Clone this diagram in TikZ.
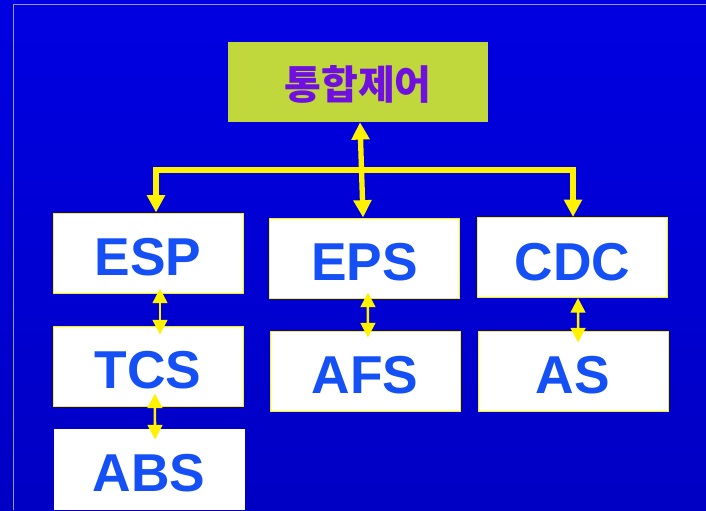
\documentclass[tikz,border=0pt]{standalone}
\usepackage{fontspec}
\setmainfont{Liberation Sans}
\newfontfamily\kr{Noto Sans CJK KR}
\usetikzlibrary{positioning,arrows.meta,calc}
\usepackage{xcolor}
\definecolor{bgtop}{RGB}{0,0,226}
\definecolor{bgbot}{RGB}{0,0,196}
\definecolor{lime}{RGB}{192,216,60}
\definecolor{violettext}{RGB}{112,16,224}
\definecolor{boxtext}{RGB}{20,80,245}
\definecolor{frameline}{RGB}{150,150,200}

\begin{document}
\begin{tikzpicture}[x=0.75pt,y=-0.75pt,
  unit/.style={draw=yellow,line width=0.75pt,fill=white,minimum width=190*0.75pt,
    minimum height=80*0.75pt,inner sep=0pt,text=boxtext,
    font=\fontsize{40}{40}\selectfont\bfseries,text height=34pt,text depth=0pt},
  bus/.style={yellow,line width=4pt,{Triangle[width=13pt,length=13pt]}-{Triangle[width=13pt,length=13pt]}},
  link/.style={yellow,line width=1.9pt,{Triangle[width=11pt,length=11pt]}-{Triangle[width=11pt,length=11pt]}}]
\useasboundingbox (0,0) rectangle (706,510);
\shade[top color=bgtop,bottom color=bgbot] (0,0) rectangle (706,510);
\draw[frameline,line width=0.75pt] (13,510) -- (13,5) -- (706,5);
% top box
\node[fill=lime,minimum width=260*0.75pt,minimum height=80*0.75pt,inner sep=0pt,
  text=violettext,font=\kr\fontsize{30}{30}\selectfont\bfseries,
  text height=26pt,text depth=0pt] (ctrl) at (358,82) {통합제어};
% units
\node[unit] (esp) at (148,253) {ESP};
\node[unit] (tcs) at (148,366) {TCS};
\node[unit,draw=white] (abs) at (149,469) {ABS};
\node[unit] (eps) at (364.5,258) {EPS};
\node[unit] (afs) at (365,371) {AFS};
\node[unit] (cdc) at (572.5,257.5) {CDC};
\node[unit] (as) at (573,371) {AS};
% bus
\coordinate (busL) at (156,170);
\coordinate (busR) at (573,170);
\draw[bus] (busL |- esp.north) |- (busR) -- (busR |- cdc.north);
\draw[bus] ([xshift=1.5pt]ctrl.south) -- ([xshift=-1.1pt]eps.north);
% links
\draw[link,shorten <=-3.75pt,shorten >=-6.75pt] ([xshift=9pt]esp.south) -- ([xshift=9pt]tcs.north);
\draw[link,shorten <=-9.75pt,shorten >=-8.25pt] ([xshift=5.2pt]tcs.south) -- ([xshift=4.5pt]abs.north);
\draw[link,shorten <=-4.5pt,shorten >=-5.25pt] ([xshift=2.6pt]eps.south) -- ([xshift=2.2pt]afs.north);
\draw[link,shorten >=-9pt] ([xshift=4.1pt]cdc.south) -- ([xshift=3.8pt]as.north);
\end{tikzpicture}
\end{document}
